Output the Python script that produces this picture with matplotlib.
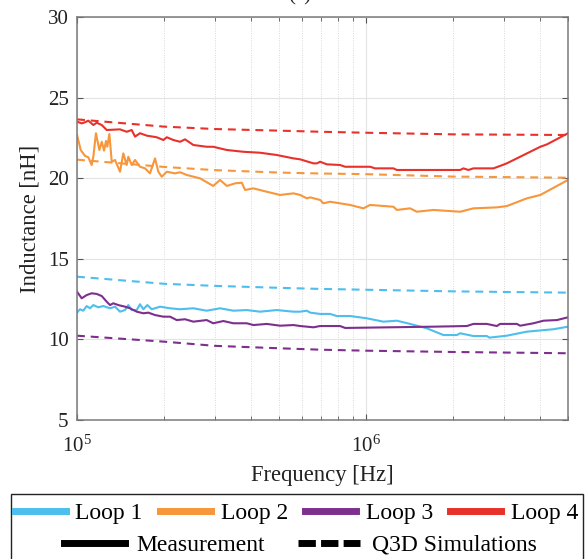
import matplotlib
matplotlib.use('Agg')
import matplotlib.pyplot as plt
from matplotlib.lines import Line2D
from matplotlib.patches import Rectangle
from matplotlib.ticker import LogLocator, NullFormatter

plt.rcParams['font.family'] = 'Liberation Serif'
plt.rcParams['mathtext.fontset'] = 'stix'

BLUE = '#4DBEEE'; ORANGE = '#F7963A'; PURPLE = '#7E2F8E'; RED = '#E8312A'

# simulated inductance (Q3D), frequency in kHz
f_sim = [100, 200, 300, 500, 700, 1000, 2000, 5000]
sim1 = [13.89, 13.45, 13.32, 13.20, 13.13, 13.08, 12.98, 12.90]
sim2 = [21.15, 20.70, 20.50, 20.35, 20.29, 20.25, 20.10, 20.03]
sim3 = [10.23, 9.86, 9.60, 9.45, 9.36, 9.30, 9.22, 9.14]
sim4 = [23.65, 23.20, 23.05, 22.95, 22.88, 22.82, 22.72, 22.68]

# measured inductance, frequency in kHz
f1 = [100, 102.4, 105.1, 108, 110.9, 113.9, 118.5, 123.3, 130.1, 135.4, 140.9, 146.6, 150.5,
      154.6, 160.9, 165.2, 169.7, 175.2, 181.4, 193.8, 209.9, 227.3, 252.7, 281, 312.6, 347.5,
      386.8, 430, 491, 561, 592, 624, 641, 694, 751, 792, 881, 1006, 1148, 1279, 1421, 1623,
      1853, 2062, 2118, 2353, 2618, 2673, 3070, 3602, 4455, 5000]
m1 = [11.66, 11.87, 11.78, 12.07, 11.93, 12.13, 11.99, 12.07, 11.93, 12.03, 11.72, 11.82, 12.13,
      11.82, 11.82, 12.18, 11.87, 12.13, 11.87, 12.03, 11.93, 11.87, 11.93, 11.78, 11.93, 11.78,
      11.82, 11.72, 11.82, 11.72, 11.72, 11.78, 11.66, 11.58, 11.58, 11.45, 11.45, 11.31, 11.10,
      11.16, 10.96, 10.69, 10.27, 10.27, 10.38, 10.21, 10.21, 10.11, 10.23, 10.48, 10.63, 10.79]

f2 = [100, 101, 103, 106.6, 109.4, 112.4, 113.9, 116.3, 119.5, 121.8, 124, 126, 127.3, 129.4,
      131.9, 135.4, 140.9, 144.6, 148.6, 150.5, 154.6, 158.8, 165.2, 172, 178.9, 186.2, 191.2,
      196.5, 204.5, 218.4, 227.3, 239.8, 266.6, 296, 312.6, 330, 352.3, 371.7, 381.6, 407.7,
      453.6, 504.3, 561, 592, 624, 641, 694, 712, 751, 881, 980, 1033, 1244, 1279, 1421, 1499,
      1711, 2118, 2353, 2836, 3070, 3602, 4010, 5000]
m2 = [22.68, 22.37, 21.75, 21.38, 21.30, 20.82, 21.33, 22.79, 21.75, 22.26, 21.71, 22.31, 21.95,
      22.74, 21.02, 21.13, 20.40, 21.54, 20.82, 21.33, 20.82, 21.13, 20.71, 20.61, 20.30, 21.23,
      20.40, 20.09, 20.40, 20.30, 20.37, 20.20, 19.99, 19.52, 19.89, 19.52, 19.68, 19.72, 19.27,
      19.37, 19.16, 18.96, 19.06, 18.96, 18.75, 18.81, 18.65, 18.44, 18.54, 18.34, 18.13, 18.34,
      18.23, 18.03, 18.13, 17.92, 18.03, 17.92, 18.13, 18.19, 18.27, 18.75, 18.96, 19.89]

f3 = [100, 103.8, 108, 112.4, 117, 121.8, 126.7, 130.1, 133.5, 139, 146.6, 152.6, 160.9, 169.7,
      176.6, 186.2, 199, 209.9, 221.3, 236.5, 252.7, 281, 296, 321, 347.5, 386.8, 407.7, 453.6,
      504.3, 561, 592, 658, 694, 813, 847, 1711, 2234, 2353, 2618, 2836, 2910, 3327, 3415, 3797,
      4113, 4577, 5000]
m3 = [12.96, 12.55, 12.75, 12.86, 12.82, 12.69, 12.34, 12.13, 12.24, 12.13, 12.03, 11.93, 11.72,
      11.62, 11.66, 11.51, 11.41, 11.41, 11.20, 11.25, 11.10, 11.20, 11.00, 11.14, 11.00, 11.00,
      10.89, 10.96, 10.85, 10.89, 10.83, 10.75, 10.83, 10.83, 10.71, 10.79, 10.83, 10.96, 10.96,
      10.83, 10.96, 10.96, 10.85, 11.00, 11.16, 11.20, 11.37]

f4 = [100, 103.8, 106.6, 109.4, 113.9, 117, 121.8, 126.7, 140.9, 148.6, 154.6, 158.8, 165.2,
      174.3, 188.7, 199, 204.5, 215.4, 227.3, 236.5, 252.7, 281, 296, 330, 376, 430, 491, 561,
      592, 658, 676, 694, 732, 813, 847, 1033, 1075, 1244, 1279, 2118, 2173, 2262, 2353, 2760,
      2910, 3070, 4010, 4230, 5000]
m4 = [23.51, 23.40, 23.47, 23.57, 23.30, 23.44, 23.30, 22.99, 23.03, 22.88, 22.99, 22.58, 22.79,
      22.64, 22.54, 22.37, 22.54, 22.37, 22.26, 22.41, 22.06, 21.95, 21.95, 21.75, 21.64, 21.58,
      21.44, 21.23, 21.17, 20.92, 20.92, 21.02, 20.86, 20.82, 20.71, 20.71, 20.61, 20.61, 20.51,
      20.51, 20.61, 20.51, 20.61, 20.61, 20.76, 20.92, 21.95, 22.10, 22.79]

loops = ['Loop 1', 'Loop 2', 'Loop 3', 'Loop 4']
colors = [BLUE, ORANGE, PURPLE, RED]
meas = [(f1, m1), (f2, m2), (f3, m3), (f4, m4)]
sims = [sim1, sim2, sim3, sim4]

fig = plt.figure(figsize=(5.85, 5.59), dpi=100)
ax = fig.add_axes([77/585, 1-420/559, (568-77)/585, (420-17)/559])

DASH = (0, (3.8, 2.8))
for (f, m), s, c in zip(meas, sims, colors):
    ax.plot([v*1e3 for v in f_sim], s, color=c, lw=1.5, linestyle=DASH)
    ax.plot([v*1e3 for v in f], m, color=c, lw=1.5)

ax.set_xscale('log')
ax.set_xlim(1e5, 5e6)
ax.set_ylim(5, 30)
ax.set_yticks([5, 10, 15, 20, 25, 30])
ax.xaxis.set_major_locator(LogLocator(base=10))
ax.xaxis.set_minor_locator(LogLocator(base=10, subs=range(2, 10)))
ax.xaxis.set_minor_formatter(NullFormatter())

ax.grid(True, which='major', color='#e3e3e3', lw=0.8)
ax.grid(True, which='minor', axis='x', color='#d8d8d8', lw=0.7, linestyle=(0, (1, 1.5)))
ax.set_axisbelow(True)
for sp in ax.spines.values():
    sp.set_color('#7a7a7a'); sp.set_linewidth(1.1)
ax.tick_params(which='both', direction='in', top=True, right=True, color='#555555',
               labelsize=15, labelcolor='#222222')
ax.tick_params(which='major', length=4)
ax.tick_params(which='minor', length=3)
ax.tick_params(axis='x', pad=11)
ax.tick_params(axis='y', pad=6)

ax.set_xlabel('Frequency [Hz]', fontsize=16.3, color='#222222', labelpad=6)
ax.set_ylabel('Inductance [nH]', fontsize=16.3, color='#222222', labelpad=5)
fig.text(0.513, 1.0, '(a)', ha='center', va='baseline', fontsize=15, color='#222222')

# legend box and two rows
fig.patches.append(Rectangle((11/585, -0.02), (583-11)/585, 65/559 + 0.02,
                             transform=fig.transFigure, fill=False, ec='#222222', lw=1.0))
h1 = [Line2D([], [], color=c, lw=5) for c in colors]
fig.legend(h1, loops, loc='center', bbox_to_anchor=(296.5/585, 1-513/559), ncol=4, frameon=False,
           fontsize=17, handlelength=2.16, handletextpad=0.42, columnspacing=0.72,
           borderpad=0, borderaxespad=0)
h2 = [Line2D([], [], color='black', lw=5),
      Line2D([], [], color='black', lw=5, linestyle=(0, (2.5, 0.75)))]
fig.legend(h2, ['Measurement', 'Q3D Simulations'], loc='center',
           bbox_to_anchor=(300/585, 1-545/559), ncol=2, frameon=False, fontsize=17,
           handlelength=2.6, handletextpad=0.5, columnspacing=1.4, borderpad=0, borderaxespad=0)

fig.savefig('out.png', dpi=100, facecolor='white')
